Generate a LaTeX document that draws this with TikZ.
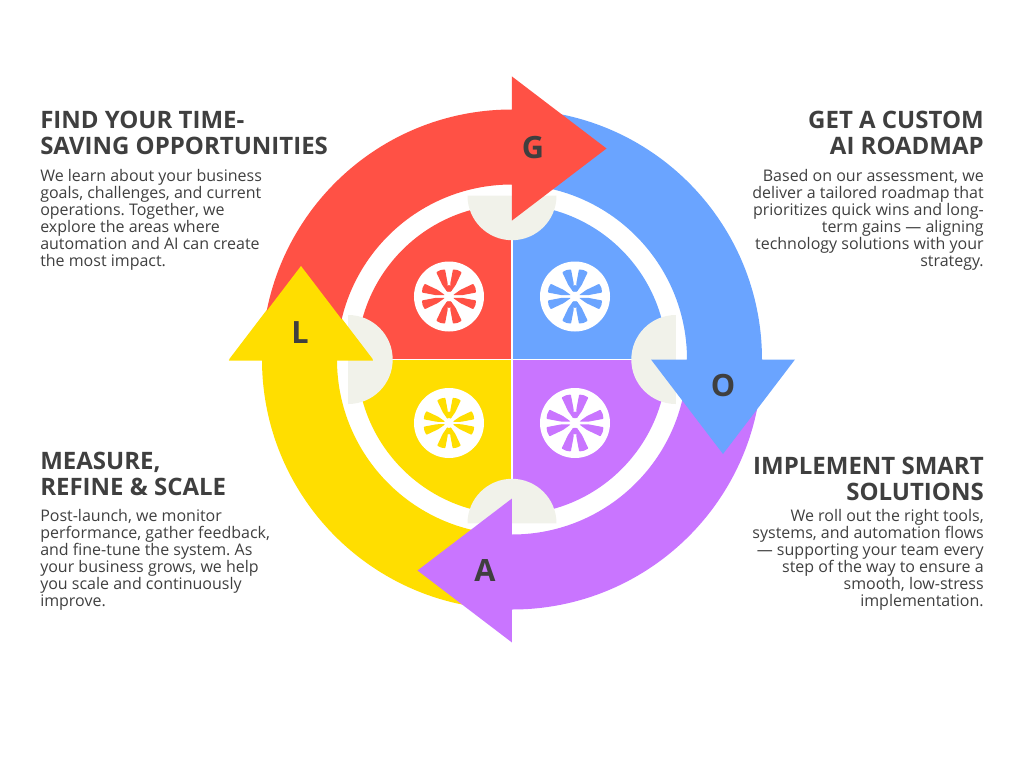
\documentclass[tikz,border=0pt]{standalone}
\usepackage{fontspec}
\setmainfont{Open Sans}
\definecolor{redbar}{HTML}{FF5145}
\definecolor{bluebar}{HTML}{6AA4FF}
\definecolor{purplebar}{HTML}{C975FF}
\definecolor{yellowbar}{HTML}{FFDE00}
\definecolor{notchgray}{HTML}{F1F2EA}
\definecolor{inkgray}{HTML}{3F3F3F}
\tikzset{
	headline/.style={inner sep=0pt,text=inkgray,font=\fontsize{18}{19.6}\selectfont\bfseries},
	bodytext/.style={inner sep=0pt,text=inkgray,font=\fontsize{12}{12.75}\selectfont},
	stageletter/.style={inner sep=0pt,text=inkgray,font=\fontsize{23}{23}\selectfont\bfseries}
}
\frenchspacing
\begin{document}
\begin{tikzpicture}[x=0.75pt,y=0.75pt]
	\useasboundingbox (-512,-408.5) rectangle (512,359.5);
	% quarter discs and their badges
	\foreach \ang/\col in {90/redbar,0/bluebar,-90/purplebar,180/yellowbar}
		\fill[\col] (0,0) -- (\ang:155) arc (\ang:\ang+90:155) -- cycle;
	\draw[white,line width=1.1pt] (-160,0) -- (160,0) (0,-160) -- (0,160);
	\foreach \ang in {0,90,180,270}
		\fill[notchgray,rotate=\ang] (0,163.8) ++(-44.5,0) arc (180:360:44.5) -- cycle;
	\foreach \cx/\cy/\col/\k in {-63/63/redbar/1,63/63/bluebar/1,63/-63.5/purplebar/1.05,-63/-63.5/yellowbar/0.93}{
		\fill[white] (\cx,\cy) circle (35);
		\foreach \a in {18,72,108,162,198,252,288,342}
			\fill[\col,shift={(\cx,\cy)},rotate=\a,scale=\k,rounded corners=0.5pt]
				(5,-0.3) -- (13,-2.8) -- (27,-4.6) -- (27.8,0) -- (27,4.6) -- (13,2.8) -- (5,0.3) -- cycle;
		\foreach \a in {90,270}
			\fill[\col,shift={(\cx,\cy)}] (\a:8) circle (3.4);
		\fill[white] (\cx,\cy) circle (4.6);
	}
	% the four bent arrows
	\foreach \ang/\col in {180/yellowbar,270/purplebar,0/bluebar,90/redbar}
		\fill[\col,rotate=\ang] (0,250) arc (90:0:250) -- (283,0) -- (211,-94.5) -- (139,0) -- (175,0) arc (0:90:175) -- cycle;
	\fill[yellowbar] (-283,-1) -- (-211,93.5) -- (-139,-1) -- cycle;
	\node[stageletter] (letterg) at (21,211.5) {G};
	\node[stageletter] (lettero) at (211,-26.5) {O};
	\node[stageletter] (lettera) at (-27,-211) {A};
	\node[stageletter] (letterl) at (-212,26.5) {L};
	% texts
	\node[headline,anchor=north west,align=left] (findhead) at (-472,249) {FIND YOUR TIME-\\SAVING OPPORTUNITIES};
	\node[bodytext,anchor=north west,align=left] (findbody) at (-472,190.5) {We learn about your business\\goals, challenges, and current\\operations. Together, we\\explore the areas where\\automation and AI can create\\the most impact.};
	\node[headline,anchor=north east,align=right] (gethead) at (472,249) {GET A CUSTOM\\AI ROADMAP};
	\node[bodytext,anchor=north east,align=right] (getbody) at (472,190.5) {Based on our assessment, we\\deliver a tailored roadmap that\\prioritizes quick wins and long-\\term gains — aligning\\technology solutions with your\\strategy.};
	\node[headline,anchor=north east,align=right] (implhead) at (472,-97) {IMPLEMENT SMART\\SOLUTIONS};
	\node[bodytext,anchor=north east,align=right] (implbody) at (472,-149.5) {We roll out the right tools,\\systems, and automation flows\\— supporting your team every\\step of the way to ensure a\\smooth, low-stress\\implementation.};
	\node[headline,anchor=north west,align=left] (meashead) at (-472,-92) {MEASURE,\\REFINE \& SCALE};
	\node[bodytext,anchor=north west,align=left] (measbody) at (-472,-149.5) {Post-launch, we monitor\\performance, gather feedback,\\and fine-tune the system. As\\your business grows, we help\\you scale and continuously\\improve.};
\end{tikzpicture}
\end{document}
